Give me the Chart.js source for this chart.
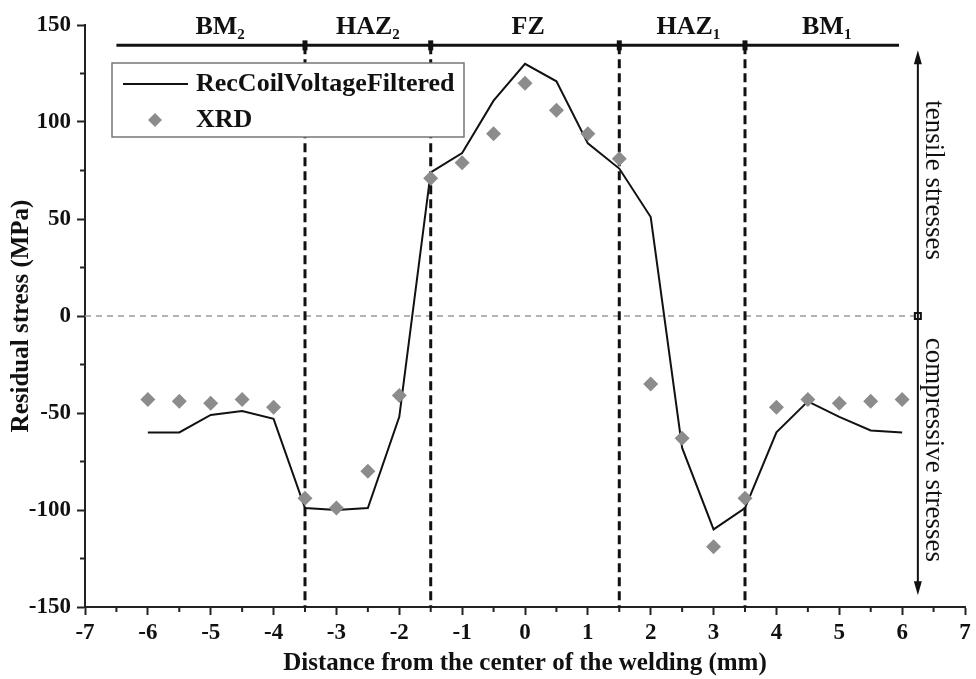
<!DOCTYPE html>
<html>
<head>
<meta charset="utf-8">
<script src="https://cdn.jsdelivr.net/npm/chart.js@4.4.1/dist/chart.umd.min.js"></script>
<style>
  html, body { margin: 0; padding: 0; background: #fff; }
</style>
</head>
<body>
<canvas id="stressCanvas" width="976" height="679"></canvas>
<script>
// distance from weld centre (mm)
const positions = [-6, -5.5, -5, -4.5, -4, -3.5, -3, -2.5, -2, -1.5, -1, -0.5, 0,
                   0.5, 1, 1.5, 2, 2.5, 3, 3.5, 4, 4.5, 5, 5.5, 6];
const coilValues = [-60, -60, -51, -49, -53, -99, -100, -99, -52, 74, 84, 111, 130,
                    121, 89, 76, 51, -68, -110, -99, -60, -44, -52, -59, -60];
const xrdValues = [-43, -44, -45, -43, -47, -94, -99, -80, -41, 71, 79, 94, 120,
                   106, 94, 81, -35, -63, -119, -94, -47, -43, -45, -44, -43];

const xTicks = [-7, -6, -5, -4, -3, -2, -1, 0, 1, 2, 3, 4, 5, 6, 7];
const yTicks = [-150, -100, -50, 0, 50, 100, 150];

// weld zones
const zoneBounds = [-3.5, -1.5, 1.5, 3.5];
const zoneNames = ['BM', 'HAZ', 'FZ', 'HAZ', 'BM'];
const zoneSubs = ['2', '2', '', '1', '1'];
const zoneCenters = [-4.85, -2.5, 0.05, 2.6, 4.8];
const zoneBarY = 139.5;
const zoneBarStart = -6.5;
const zoneBarEnd = 5.95;

// stress direction arrow on the right
const arrowX = 6.25;
const arrowTop = 137;
const arrowBottom = -144;

const serif = "'Liberation Serif', 'Times New Roman', serif";
Chart.defaults.font.family = serif;
Chart.defaults.color = '#111';

const boundSets = zoneBounds.map(b => ({
  label: 'bound',
  data: [{x: b, y: zoneBarY}, {x: b, y: -150}],
  showLine: true,
  borderColor: '#111',
  borderWidth: 3,
  borderDash: [9, 5],
  pointRadius: 0,
  clip: false,
  order: 5
}));

const datasets = [
  {
    label: 'zero',
    data: [{x: -7, y: 0}, {x: arrowX, y: 0}],
    showLine: true,
    borderColor: '#9a9a9a',
    borderWidth: 1.5,
    borderDash: [6, 5],
    pointRadius: 0,
    order: 6
  },
  {
    label: 'zones',
    data: [{x: zoneBarStart, y: zoneBarY}, {x: zoneBarEnd, y: zoneBarY}],
    showLine: true,
    borderColor: '#111',
    borderWidth: 3,
    pointRadius: 0,
    order: 4
  },
  ...boundSets,
  {
    label: 'RecCoilVoltageFiltered',
    data: positions.map((x, i) => ({x: x, y: coilValues[i]})),
    showLine: true,
    borderColor: '#111',
    borderWidth: 2,
    pointRadius: 0,
    tension: 0,
    order: 2
  },
  {
    label: 'XRD',
    data: positions.map((x, i) => ({x: x, y: xrdValues[i]})),
    showLine: false,
    pointStyle: 'rectRot',
    pointRadius: 7.5,
    backgroundColor: '#8c8c8c',
    borderColor: '#8c8c8c',
    borderWidth: 0,
    order: 1
  }
];

const extras = {
  id: 'extras',
  afterDraw(chart) {
    const ctx = chart.ctx;
    const xs = chart.scales.x;
    const ys = chart.scales.y;
    const area = chart.chartArea;
    ctx.save();

    // minor ticks
    ctx.strokeStyle = '#222';
    ctx.lineWidth = 2;
    ctx.beginPath();
    for (let i = 0; i < xTicks.length - 1; i++) {
      const px = xs.getPixelForValue((xTicks[i] + xTicks[i + 1]) / 2);
      ctx.moveTo(px, area.bottom);
      ctx.lineTo(px, area.bottom + 5);
    }
    for (let i = 0; i < yTicks.length - 1; i++) {
      const py = ys.getPixelForValue((yTicks[i] + yTicks[i + 1]) / 2);
      ctx.moveTo(area.left, py);
      ctx.lineTo(area.left - 5, py);
    }
    ctx.stroke();

    // zone bar markers + names
    const barPy = ys.getPixelForValue(zoneBarY);
    ctx.fillStyle = '#111';
    zoneBounds.forEach(b => {
      const px = xs.getPixelForValue(b);
      ctx.fillRect(px - 2.5, barPy - 5, 5, 10);
    });
    ctx.textBaseline = 'middle';
    zoneNames.forEach((name, i) => {
      const px = xs.getPixelForValue(zoneCenters[i]);
      ctx.font = 'bold 26px ' + serif;
      const w = ctx.measureText(name).width;
      ctx.font = 'bold 15px ' + serif;
      const ws = zoneSubs[i] ? ctx.measureText(zoneSubs[i]).width : 0;
      const x0 = px - (w + ws) / 2;
      ctx.font = 'bold 26px ' + serif;
      ctx.textAlign = 'left';
      ctx.fillText(name, x0, barPy - 18);
      if (zoneSubs[i]) {
        ctx.font = 'bold 15px ' + serif;
        ctx.fillText(zoneSubs[i], x0 + w, barPy - 10);
      }
    });

    // arrow
    const ax = xs.getPixelForValue(arrowX);
    const aTop = ys.getPixelForValue(arrowTop);
    const aBot = ys.getPixelForValue(arrowBottom);
    ctx.strokeStyle = '#111';
    ctx.lineWidth = 2;
    ctx.beginPath();
    ctx.moveTo(ax, aTop + 8);
    ctx.lineTo(ax, aBot - 8);
    ctx.stroke();
    ctx.beginPath();
    ctx.moveTo(ax, aTop); ctx.lineTo(ax - 4, aTop + 14); ctx.lineTo(ax + 4, aTop + 14); ctx.closePath();
    ctx.moveTo(ax, aBot); ctx.lineTo(ax - 4, aBot - 14); ctx.lineTo(ax + 4, aBot - 14); ctx.closePath();
    ctx.fill();
    const zy = ys.getPixelForValue(0);
    ctx.strokeRect(ax - 3, zy - 3, 6, 6);

    // rotated stress labels
    ctx.font = '27px ' + serif;
    ctx.textAlign = 'center';
    ctx.textBaseline = 'middle';
    [['tensile stresses', 70], ['compressive stresses', -69]].forEach(([t, v]) => {
      ctx.save();
      ctx.translate(ax + 15, ys.getPixelForValue(v));
      ctx.rotate(Math.PI / 2);
      ctx.fillText(t, 0, 0);
      ctx.restore();
    });

    // legend box
    const lx = area.left + 27, ly = area.top + 38, lw = 352, lh = 74;
    ctx.fillStyle = '#fff';
    ctx.fillRect(lx, ly, lw, lh);
    ctx.strokeStyle = '#777';
    ctx.lineWidth = 1.5;
    ctx.strokeRect(lx, ly, lw, lh);
    const coil = chart.data.datasets.find(d => d.label === 'RecCoilVoltageFiltered');
    const xrd = chart.data.datasets.find(d => d.label === 'XRD');
    ctx.strokeStyle = '#111';
    ctx.lineWidth = 2;
    ctx.beginPath();
    ctx.moveTo(lx + 11, ly + 21);
    ctx.lineTo(lx + 76, ly + 21);
    ctx.stroke();
    ctx.fillStyle = '#8c8c8c';
    ctx.beginPath();
    const dx = lx + 43, dy = ly + 57;
    ctx.moveTo(dx, dy - 7); ctx.lineTo(dx + 7, dy); ctx.lineTo(dx, dy + 7); ctx.lineTo(dx - 7, dy); ctx.closePath();
    ctx.fill();
    ctx.fillStyle = '#111';
    ctx.font = 'bold 26px ' + serif;
    ctx.textAlign = 'left';
    ctx.fillText(coil.label, lx + 84, ly + 21);
    ctx.fillText(xrd.label, lx + 84, ly + 57);

    ctx.restore();
  }
};

new Chart(document.getElementById('stressCanvas').getContext('2d'), {
  type: 'scatter',
  data: { datasets: datasets },
  options: {
    responsive: false,
    animation: false,
    layout: { padding: { left: 0, top: 25, right: 11, bottom: 0 } },
    plugins: {
      legend: { display: false },
      tooltip: { enabled: false }
    },
    scales: {
      x: {
        type: 'linear',
        min: -7,
        max: 7,
        afterBuildTicks: s => { s.ticks = xTicks.map(v => ({value: v})); },
        afterFit: s => { s.height = 72; },
        ticks: { font: { size: 23, weight: 'bold' }, color: '#111', padding: 4, maxRotation: 0 },
        grid: { drawOnChartArea: false, drawTicks: true, tickLength: 8, tickWidth: 2, tickColor: '#222' },
        border: { display: true, color: '#222', width: 2 },
        title: {
          display: true,
          text: 'Distance from the center of the welding (mm)',
          font: { size: 25, weight: 'bold' },
          color: '#111',
          padding: { top: 0, bottom: 0 }
        }
      },
      y: {
        type: 'linear',
        min: -150,
        max: 150,
        afterBuildTicks: s => { s.ticks = yTicks.map(v => ({value: v})); },
        afterFit: s => { s.width = 85; },
        ticks: { font: { size: 23, weight: 'bold' }, color: '#111', padding: 6 },
        grid: { drawOnChartArea: false, drawTicks: true, tickLength: 8, tickWidth: 2, tickColor: '#222' },
        border: { display: true, color: '#222', width: 2 },
        title: {
          display: true,
          text: 'Residual stress (MPa)',
          font: { size: 25, weight: 'bold' },
          color: '#111',
          padding: { top: 7, bottom: 0 }
        }
      }
    }
  },
  plugins: [extras]
});
</script>
</body>
</html>
